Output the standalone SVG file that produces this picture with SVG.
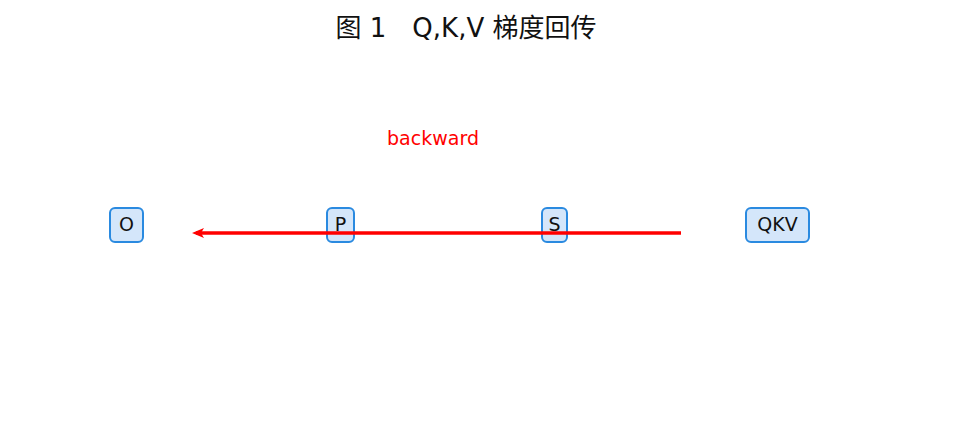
<svg xmlns="http://www.w3.org/2000/svg" width="959" height="421" viewBox="0 0 959 421">
<style>
.n rect{fill:#d4e6fa;stroke:#2a8ae0;stroke-width:2}
.n text{font-family:"DejaVu Sans",sans-serif;font-size:19px;fill:#111;text-anchor:middle}
</style>
<defs><marker id="a" markerWidth="12" markerHeight="12" refX="8" refY="6" orient="auto" markerUnits="userSpaceOnUse"><path d="M0,1 L12,6 L0,11 L3,6 Z" fill="#f00"/></marker></defs>
<rect width="959" height="421" fill="#fff"/>
<text x="466" y="37" font-family="'DejaVu Sans','Noto Sans CJK SC',sans-serif" font-size="26" text-anchor="middle" fill="#111">图 1　Q,K,V 梯度回传</text>
<g id="O" class="n"><rect x="110" y="208" width="33" height="34" rx="5"/><text x="126.5" y="231">O</text></g>
<g id="P" class="n"><rect x="327" y="208" width="27" height="34" rx="5"/><text x="340.5" y="231">P</text></g>
<g id="S" class="n"><rect x="542" y="208" width="25" height="34" rx="5"/><text x="554.5" y="231">S</text></g>
<g id="QKV" class="n"><rect x="746" y="208" width="63" height="34" rx="5"/><text x="777.5" y="231">QKV</text></g>
<g id="connectors"><line x1="681" y1="233" x2="196" y2="233" stroke="#f00" stroke-width="3.5" marker-end="url(#a)"/></g>
<text x="433" y="145" font-family="'DejaVu Sans',sans-serif" font-size="19" fill="#f00" text-anchor="middle">backward</text>
</svg>
